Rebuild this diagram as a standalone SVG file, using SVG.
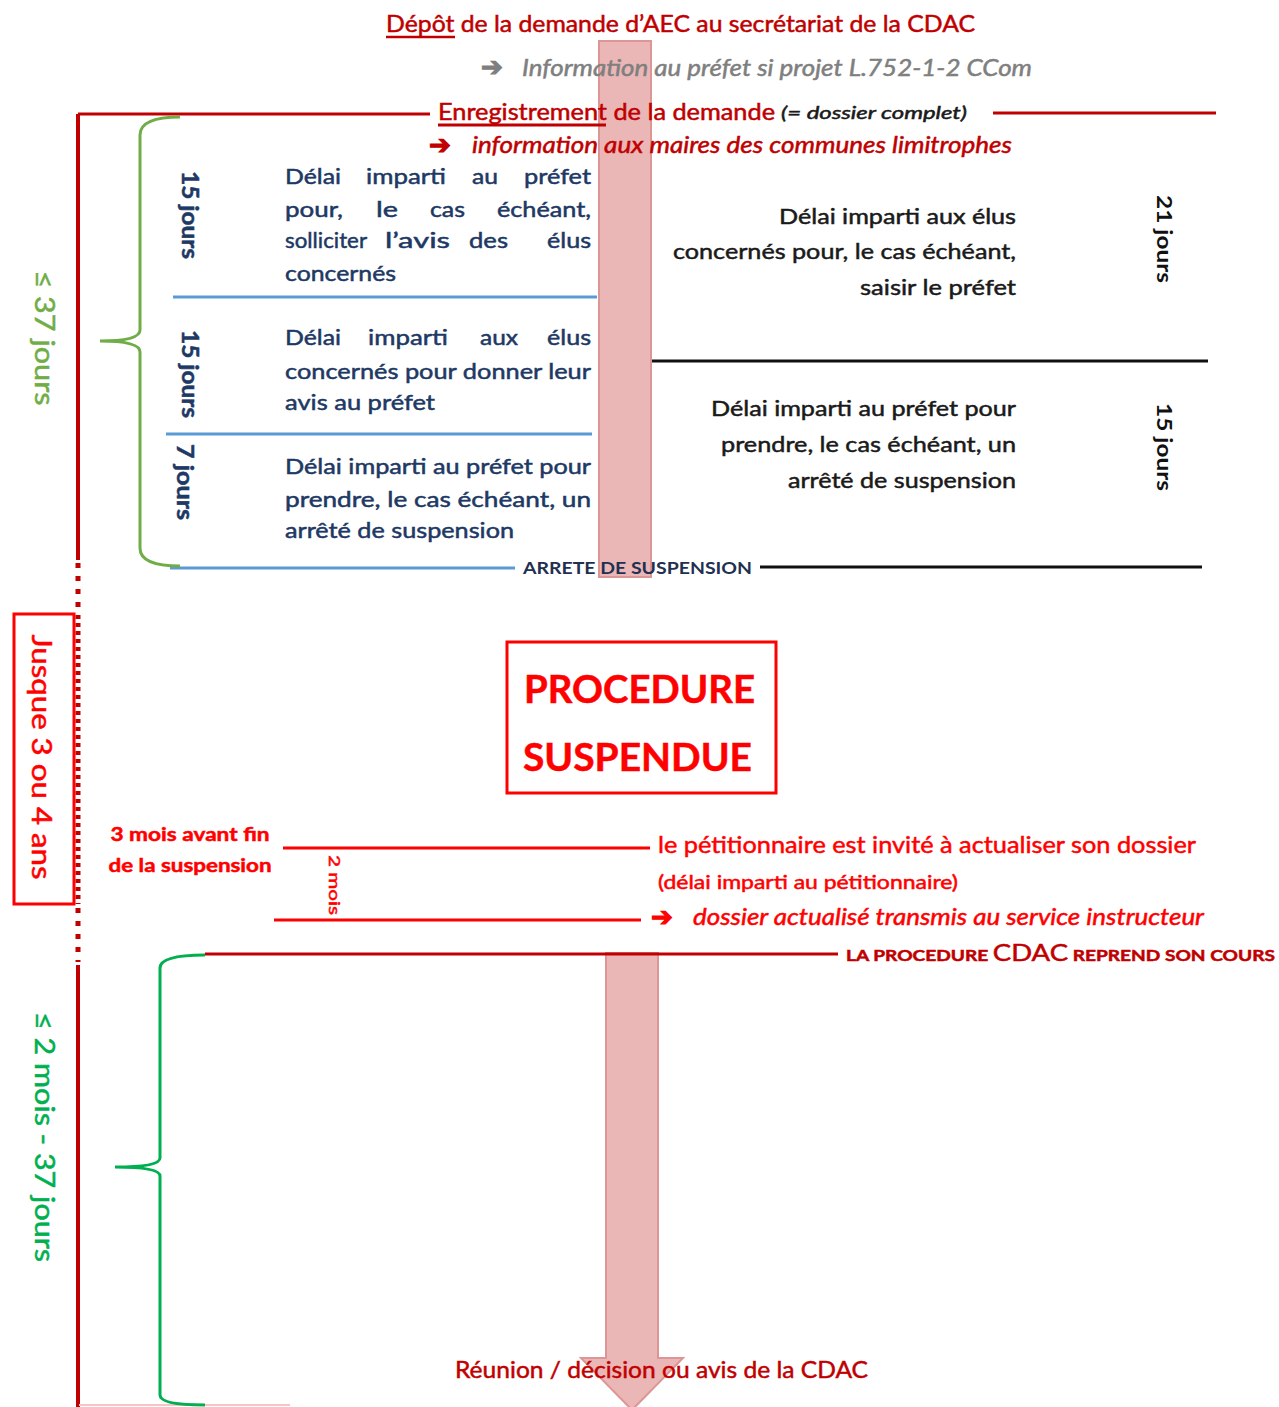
<svg xmlns="http://www.w3.org/2000/svg" width="1279" height="1407" viewBox="0 0 1279 1407">
<defs>
<style>
text{font-family:Lato,"Liberation Sans",sans-serif;stroke-width:0.5}
.dr{fill:#c00000;stroke:#c00000}
.rd{fill:#ff0000;stroke:#ff0000}
.bl{fill:#203864;stroke:#203864;font-size:22px}
.bk{fill:#1a1a1a;stroke:#1a1a1a;font-size:22px}
.gr{fill:#7f7f7f;stroke:#7f7f7f}
.it{font-style:italic}
.b{font-weight:bold}
.arr{font-family:"DejaVu Sans",sans-serif;font-weight:bold;stroke-width:1.2}
.pink{fill:#ebb6b6;stroke:#dc9696;stroke-width:2}
.ln{fill:none;stroke-width:3}
</style>
</defs>
<rect width="1279" height="1407" fill="#fff"/>

<g id="flow-arrows">
<rect class="pink" x="599" y="41" width="52" height="536"/>
<path class="pink" d="M606,953 L658,953 L658,1358 L683,1358 L632,1410 L581,1358 L606,1358 Z"/>
</g>

<g id="connectors">
<line x1="78" y1="114" x2="430" y2="114" stroke="#c00000" class="ln"/>
<line x1="993" y1="113" x2="1216" y2="113" stroke="#c00000" class="ln"/>
<line x1="78" y1="114" x2="78" y2="560" stroke="#c00000" stroke-width="4"/>
<line x1="78" y1="563" x2="78" y2="613" stroke="#c00000" stroke-width="5" stroke-dasharray="5 8"/>
<line x1="78" y1="615" x2="78" y2="904" stroke="#c00000" stroke-width="5" stroke-dasharray="4 4"/>
<line x1="78" y1="908" x2="78" y2="962" stroke="#c00000" stroke-width="5" stroke-dasharray="5 8"/>
<line x1="78" y1="965" x2="78" y2="1407" stroke="#c00000" stroke-width="4"/>
<line x1="79" y1="1405" x2="290" y2="1405" stroke="#f6c4c4" stroke-width="2"/>
<line x1="173" y1="297" x2="597" y2="297" stroke="#5b9bd5" class="ln"/>
<line x1="166" y1="434" x2="592" y2="434" stroke="#5b9bd5" class="ln"/>
<line x1="170" y1="568" x2="515" y2="568" stroke="#5b9bd5" class="ln"/>
<line x1="760" y1="567" x2="1202" y2="567" stroke="#111" class="ln"/>
<line x1="652" y1="361" x2="1208" y2="361" stroke="#111" class="ln"/>
<line x1="283" y1="848" x2="650" y2="848" stroke="#ff0000" class="ln"/>
<line x1="274" y1="920" x2="641" y2="920" stroke="#ff0000" class="ln"/>
<line x1="205" y1="954" x2="838" y2="954" stroke="#c00000" class="ln"/>
<path d="M180,117 Q140,117 140,135 L140,330 Q140,341 100,341 Q140,341 140,352 L140,548 Q140,566 180,566" stroke="#70ad47" class="ln"/>
<path d="M205,955 Q160,955 160,968 L160,1158 Q160,1167 115,1167 Q160,1167 160,1176 L160,1395 Q160,1405 205,1405" stroke="#00b050" class="ln"/>
</g>

<g id="depot">
<text class="dr" x="386" y="32" font-size="24" textLength="589" lengthAdjust="spacingAndGlyphs">Dépôt de la demande d’AEC au secrétariat de la CDAC</text>
<line x1="386" y1="37" x2="455" y2="37" stroke="#c00000" stroke-width="2.5"/>
</g>

<g id="info-prefet">
<text class="arr gr" x="481" y="76" font-size="26">➔</text>
<text class="it gr" x="522" y="76" font-size="23" textLength="510" lengthAdjust="spacingAndGlyphs">Information au préfet si projet L.752-1-2 CCom</text>
</g>

<g id="enregistrement">
<text class="dr" x="438" y="120" font-size="23" textLength="337" lengthAdjust="spacingAndGlyphs">Enregistrement de la demande</text>
<text class="it" x="781" y="119" font-size="18" fill="#1a1a1a" stroke="#1a1a1a" textLength="186" lengthAdjust="spacingAndGlyphs">(= dossier complet)</text>
<line x1="438" y1="125" x2="606" y2="125" stroke="#c00000" stroke-width="3"/>
</g>

<g id="info-maires">
<text class="arr dr" x="429" y="154" font-size="26">➔</text>
<text class="it dr" x="472" y="153" font-size="23" textLength="540" lengthAdjust="spacingAndGlyphs">information aux maires des communes limitrophes</text>
</g>

<g id="duree-37">
<text transform="translate(45,338) rotate(90)" text-anchor="middle" dominant-baseline="central" font-size="26" fill="#70ad47" stroke="#70ad47" textLength="135" lengthAdjust="spacingAndGlyphs">≤ 37 jours</text>
</g>

<g id="etape-1">
<text class="bl b" transform="translate(190,215) rotate(90)" text-anchor="middle" dominant-baseline="central" font-size="21" textLength="88" lengthAdjust="spacingAndGlyphs">15 jours</text>
<text class="bl" x="285" y="184" textLength="56" lengthAdjust="spacingAndGlyphs">Délai</text>
<text class="bl" x="366" y="184" textLength="80" lengthAdjust="spacingAndGlyphs">imparti</text>
<text class="bl" x="472" y="184" textLength="26" lengthAdjust="spacingAndGlyphs">au</text>
<text class="bl" x="524" y="184" textLength="67" lengthAdjust="spacingAndGlyphs">préfet</text>
<text class="bl" x="285" y="217" textLength="58" lengthAdjust="spacingAndGlyphs">pour,</text>
<text class="bl" x="376" y="217" textLength="22" lengthAdjust="spacingAndGlyphs">le</text>
<text class="bl" x="430" y="217" textLength="35" lengthAdjust="spacingAndGlyphs">cas</text>
<text class="bl" x="497" y="217" textLength="94" lengthAdjust="spacingAndGlyphs">échéant,</text>
<text class="bl" x="285" y="248" textLength="82" lengthAdjust="spacingAndGlyphs">solliciter</text>
<text class="bl" x="385" y="248" textLength="65" lengthAdjust="spacingAndGlyphs">l’avis</text>
<text class="bl" x="469" y="248" textLength="39" lengthAdjust="spacingAndGlyphs">des</text>
<text class="bl" x="547" y="248" textLength="44" lengthAdjust="spacingAndGlyphs">élus</text>
<text class="bl" x="285" y="281" textLength="111" lengthAdjust="spacingAndGlyphs">concernés</text>
</g>

<g id="etape-2">
<text class="bl b" transform="translate(190,374) rotate(90)" text-anchor="middle" dominant-baseline="central" font-size="21" textLength="88" lengthAdjust="spacingAndGlyphs">15 jours</text>
<text class="bl" x="285" y="345" textLength="56" lengthAdjust="spacingAndGlyphs">Délai</text>
<text class="bl" x="368" y="345" textLength="80" lengthAdjust="spacingAndGlyphs">imparti</text>
<text class="bl" x="480" y="345" textLength="38" lengthAdjust="spacingAndGlyphs">aux</text>
<text class="bl" x="547" y="345" textLength="44" lengthAdjust="spacingAndGlyphs">élus</text>
<text class="bl" x="285" y="379" textLength="306" lengthAdjust="spacingAndGlyphs">concernés pour donner leur</text>
<text class="bl" x="285" y="410" textLength="150" lengthAdjust="spacingAndGlyphs">avis au préfet</text>
</g>

<g id="etape-3">
<text class="bl b" transform="translate(185,482) rotate(90)" text-anchor="middle" dominant-baseline="central" font-size="21" textLength="76" lengthAdjust="spacingAndGlyphs">7 jours</text>
<text class="bl" x="285" y="474" textLength="306" lengthAdjust="spacingAndGlyphs">Délai imparti au préfet pour</text>
<text class="bl" x="285" y="507" textLength="306" lengthAdjust="spacingAndGlyphs">prendre, le cas échéant, un</text>
<text class="bl" x="285" y="538" textLength="229" lengthAdjust="spacingAndGlyphs">arrêté de suspension</text>
</g>

<g id="droite-21">
<text class="bk" x="1016" y="224" text-anchor="end" textLength="237" lengthAdjust="spacingAndGlyphs">Délai imparti aux élus</text>
<text class="bk" x="1016" y="259" text-anchor="end" textLength="343" lengthAdjust="spacingAndGlyphs">concernés pour, le cas échéant,</text>
<text class="bk" x="1016" y="295" text-anchor="end" textLength="156" lengthAdjust="spacingAndGlyphs">saisir le préfet</text>
<text class="b" transform="translate(1165,239) rotate(90)" text-anchor="middle" dominant-baseline="central" font-size="21" fill="#111" textLength="88" lengthAdjust="spacingAndGlyphs">21 jours</text>
</g>

<g id="droite-15">
<text class="bk" x="1016" y="416" text-anchor="end" textLength="305" lengthAdjust="spacingAndGlyphs">Délai imparti au préfet pour</text>
<text class="bk" x="1016" y="452" text-anchor="end" textLength="295" lengthAdjust="spacingAndGlyphs">prendre, le cas échéant, un</text>
<text class="bk" x="1016" y="488" text-anchor="end" textLength="228" lengthAdjust="spacingAndGlyphs">arrêté de suspension</text>
<text class="b" transform="translate(1165,447) rotate(90)" text-anchor="middle" dominant-baseline="central" font-size="21" fill="#111" textLength="88" lengthAdjust="spacingAndGlyphs">15 jours</text>
</g>

<g id="arrete">
<text class="b" x="523" y="574" font-size="17" fill="#1f3050" textLength="229" lengthAdjust="spacingAndGlyphs">ARRETE DE SUSPENSION</text>
</g>

<g id="procedure-suspendue">
<rect x="507" y="642" width="269" height="151" fill="none" stroke="#ff0000" stroke-width="3"/>
<text class="rd b" x="524" y="703" font-size="38" textLength="231" lengthAdjust="spacingAndGlyphs">PROCEDURE</text>
<text class="rd b" x="523" y="771" font-size="38" textLength="229" lengthAdjust="spacingAndGlyphs">SUSPENDUE</text>
</g>

<g id="jusque">
<rect x="14" y="614" width="60" height="290" fill="none" stroke="#ff0000" stroke-width="3"/>
<text class="rd" transform="translate(42,757) rotate(90)" text-anchor="middle" dominant-baseline="central" font-size="26" textLength="245" lengthAdjust="spacingAndGlyphs">Jusque 3 ou 4 ans</text>
</g>

<g id="trois-mois">
<text class="rd b" x="190" y="841" text-anchor="middle" font-size="19" stroke-width="0" textLength="159" lengthAdjust="spacingAndGlyphs">3 mois avant fin</text>
<text class="rd b" x="190" y="872" text-anchor="middle" font-size="19" stroke-width="0" textLength="163" lengthAdjust="spacingAndGlyphs">de la suspension</text>
<text class="rd" transform="translate(335,885) rotate(90)" text-anchor="middle" dominant-baseline="central" font-size="16" textLength="60" lengthAdjust="spacingAndGlyphs">2 mois</text>
</g>

<g id="petitionnaire">
<text class="rd" x="658" y="853" font-size="24" textLength="538" lengthAdjust="spacingAndGlyphs">le pétitionnaire est invité à actualiser son dossier</text>
<text class="rd" x="658" y="889" font-size="19" textLength="300" lengthAdjust="spacingAndGlyphs">(délai imparti au pétitionnaire)</text>
</g>

<g id="dossier-actualise">
<text class="arr rd" x="651" y="926" font-size="26">➔</text>
<text class="rd it" x="693" y="925" font-size="23" textLength="511" lengthAdjust="spacingAndGlyphs">dossier actualisé transmis au service instructeur</text>
</g>

<g id="reprise">
<text class="dr b" x="846" y="961" font-size="16" stroke-width="0" textLength="429" lengthAdjust="spacingAndGlyphs">LA PROCEDURE <tspan font-size="23" font-weight="normal" stroke-width="0.5">CDAC</tspan> REPREND SON COURS</text>
</g>

<g id="duree-2mois">
<text transform="translate(45,1137) rotate(90)" text-anchor="middle" dominant-baseline="central" font-size="26" fill="#00b050" stroke="#00b050" textLength="250" lengthAdjust="spacingAndGlyphs">≤ 2 mois - 37 jours</text>
</g>

<g id="reunion">
<text class="dr" x="455" y="1378" font-size="24" textLength="413" lengthAdjust="spacingAndGlyphs">Réunion / décision ou avis de la CDAC</text>
</g>
</svg>
